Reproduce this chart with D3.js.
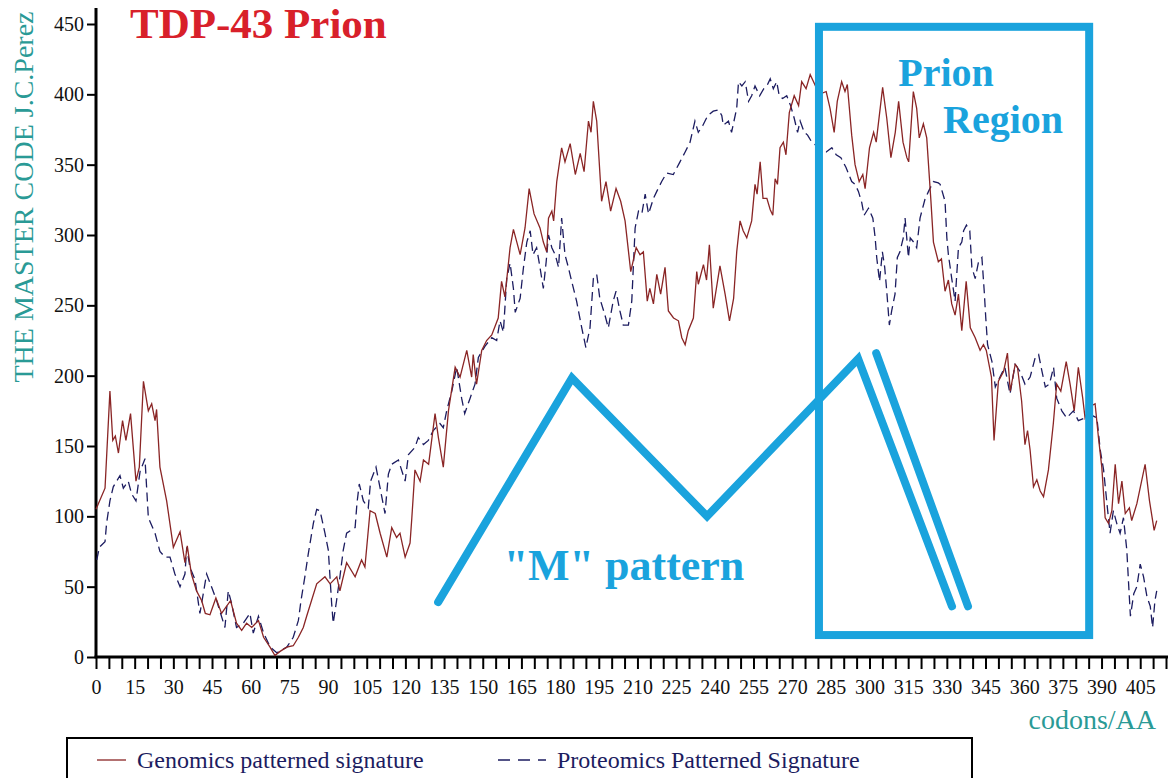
<!DOCTYPE html>
<meta charset="utf-8">
<style>
  html, body { margin: 0; padding: 0; background: #fff; overflow: hidden; }
  svg { display: block; }
  .axis text { font: normal 20px "Liberation Serif", "Times New Roman", serif; fill: #111; }
  .axis line { stroke: #000; stroke-width: 2px; }
  .axis path { display: none; }
</style>
<svg width="1169" height="778"></svg>
<script src="https://d3js.org/d3.v7.min.js"></script>
<script>

// Genomics patterned signature (codon, value)
var genCodon = [0,3.5,5.4,6.5,7.5,8.7,10.3,11.6,13.4,15.5,16.8,18.4,20.3,21.6,22.9,23.5,24.8,27.4,30,32.6,34.5,35.4,37,39,41,42.4,44.2,46.5,48.7,50.6,52.2,54.5,56.5,58.4,60.4,63,65,67.5,69.4,71.4,74,76.5,78.5,80.4,81.7,85.6,88.8,90.8,93.4,94.6,97.2,100.5,103,104.3,106.3,108.3,110.2,112.8,114.7,116.6,117.9,119.9,121.8,122.5,123.7,125.7,127,129,131.5,132.8,134.7,136.7,139.3,141.2,143.8,145.7,146.3,147.6,149.6,151.5,153.5,156,157.3,158.6,160.6,161.9,164.5,166.4,168,169.9,172.2,173.5,174.8,175.5,176.8,177.5,178.7,180.6,181.9,183.9,185.9,187.8,189.3,191,192,192.9,194.2,196.1,197.8,199.6,201.7,203.5,205.2,207.4,209.5,211,212.3,213.8,214.8,216.2,217.5,219,220.7,222,224,225.9,227.2,228.5,229.7,231.7,233,233.6,235.6,236.8,237.9,239.4,242,244,245.7,247.3,248.5,249.8,251,252.4,254.3,255.6,256.4,257.6,258.7,260.2,261.5,262.5,263.4,264.3,265.3,266.6,267.6,268.9,270.8,272.5,273.7,275.4,277,278.3,280.5,283.2,284.7,286.3,287.5,289.2,290.5,291.4,293.1,294.4,296,297.4,298.3,300,301.6,302.6,305.1,306.7,308.3,310,311.3,313,314.5,315.2,317,318.3,319.3,320.9,322.2,323.8,324.8,326.7,327.9,329.3,330.6,331.9,333.2,334.5,335.8,337.5,339.1,341,342.9,344.2,345.3,347.3,348.3,350,352,353.5,354.6,356.5,357.4,359,360.3,361.3,362.3,363.6,364.9,366.2,367.5,369.4,371.3,372.6,374.2,376.3,377.8,379.4,381,382.7,383.6,385.5,387.5,388.8,390.1,391.4,392.7,394,395.3,396.6,397.9,399.2,400.8,401.7,403.7,406.9,408.6,410.4,411.4];
var genValue = [105,120,189,154,157,145,168,154,173,125,135,196,175,180,168,176,135,111,78,89,67,79,59,47,40,31,30,42,31,36,40,24,19,24,21,26,14,7,1,4,7,8,14,21,29,52,57,52,57,47,67,57,69,64,104,102,88,71,92,85,88,71,81,99,133,125,140,137,173,156,135,175,206,199,218,199,215,194,218,225,229,241,267,256,291,304,286,305,333,315,305,295,288,312,317,310,338,362,352,365,343,358,345,381,373,395,381,324,338,317,333,324,310,274,291,286,288,253,262,251,272,258,277,246,241,239,227,222,232,241,274,265,279,268,293,248,278,258,239,255,288,310,303,298,310,336,329,352,326,326,318,314,340,336,362,366,357,387,399,392,409,404,414,409,400,402,390,373,395,409,402,407,371,350,338,343,333,362,373,366,405,383,355,373,395,366,355,352,402,390,369,379,369,325,295,281,283,260,268,251,243,258,232,267,234,227,218,222,218,199,154,196,203,216,189,208,206,182,151,161,147,121,126,118,114,133,166,194,189,210,194,175,206,184,170,178,180,156,135,99,95,104,137,109,125,102,106,97,109,137,111,90,97];

// Proteomics Patterned Signature (codon, value)
var protCodon = [0.3,1.3,3.5,4.1,5.4,6.7,9.3,10.6,12.5,13.8,15.5,17.1,19,20.3,22.9,24.8,26.8,28.7,30.6,32.6,34.5,35.2,36.4,38.4,40.3,42.9,44.8,46.8,50,51.3,52.6,54.5,57.1,59.7,61,63,65,67.6,70.1,74,76.5,78.5,79.5,81,82.3,84.3,85.6,86.9,88.8,90.1,91.4,92,93.3,94.6,95.9,97.2,100.5,101.2,102.1,103.7,105.6,106.5,108.6,110.2,112.1,113.4,114.7,117.3,119.9,121.2,123.7,125,127,128.9,130.8,133.4,134.7,136,138,139.9,141.8,143,145.1,147,148.3,150.9,153.5,155.4,156.7,158,159.3,160.6,161.9,162.6,164.5,165.8,167.1,168.4,169.5,170.9,172.2,173.5,174.6,175.5,176.8,178.1,179.4,180.6,181.9,183.2,184.5,186.4,188.4,190,191.6,192.9,194.2,195.4,197.4,198.7,200.6,201.7,203.2,204.5,206.5,207.8,209.1,210.4,211.7,213,214.3,216.2,217.5,219.4,221.3,223.9,226.5,228.5,230.4,232.3,233.6,235.4,237.3,239.4,241.4,242.7,243.3,245.3,246.5,248.5,249.2,250.5,251.8,253.1,254.3,255.6,257.4,259,260.2,261.5,262.7,264,265,266.3,267.9,269.4,270.8,272.1,273.1,274.7,276,277.6,280.5,283.2,285.4,287.1,288.9,290.9,293.1,294.4,295.7,297,297.9,299.6,301.3,302.2,302.8,303.9,305,305.9,306.7,307.7,308.6,309.9,310.8,311.8,313.1,313.8,315.1,315.8,317.1,318.3,319.6,321.6,322.9,324.8,326.7,327.4,329.3,330,330.6,331.9,333.2,334.5,335.8,336.5,337.6,338.9,339.7,341,342.3,343.6,344.5,345.1,345.8,347.5,348.8,350.6,352.5,354.5,356.5,358.4,360.3,362.3,364.3,365.6,366.9,368.2,369.8,371.4,372.6,374.6,376.5,379.1,381,383.6,386,388.2,389.5,390.8,392.1,393.3,394.6,395.9,397.2,398.5,399.8,400.5,401.2,402.5,403.7,405,406.3,407.6,408.9,409.8,410.7,411.4];
var protValue = [69,78,82,95,111,121,129,120,125,116,111,132,141,99,88,75,71,71,59,50,59,78,64,55,31,59,50,40,21,47,38,21,24,31,17,29,17,7,3,7,14,26,40,57,73,95,105,104,88,76,38,24,40,57,76,88,92,109,123,111,106,125,135,120,102,130,137,140,125,144,149,156,151,154,161,166,163,175,189,206,184,173,184,194,213,221,227,225,239,231,269,280,262,245,255,277,295,303,286,291,277,262,281,300,291,286,277,312,286,277,267,253,234,220,234,269,272,255,243,234,253,260,246,236,236,253,305,317,315,329,315,326,331,338,344,343,352,359,366,381,373,378,385,388,389,385,378,381,373,390,409,406,409,395,399,406,399,404,406,411,404,409,399,397,399,392,383,373,381,373,371,366,362,359,362,357,355,348,338,336,331,323,314,319,312,298,284,267,288,277,260,236,246,258,284,288,298,312,284,298,295,291,312,326,331,338,337,336,324,298,286,269,253,291,295,303,307,303,277,269,281,284,260,241,222,210,192,199,206,187,208,203,194,199,213,215,203,192,194,206,184,175,170,175,168,170,172,170,147,133,109,88,104,95,88,99,76,52,29,45,50,66,57,43,36,21,40,47];

// hand-drawn annotations, in chart units (codon, value)
var mPatternCodon = [132.7, 184.6, 237, 295.6, 332];
var mPatternValue = [39, 198.4, 100, 212, 36];
var mStrokeCodon = [302.6, 338.2];
var mStrokeValue = [216, 36];
var prionBoxCodon = [280.4, 385.2];
var prionBoxValue = [15.6, 448];

var yTicks = [0, 50, 100, 150, 200, 250, 300, 350, 400, 450];
var xMinorTicks = d3.range(0, 416, 5);

var svg = d3.select("svg");
var blue = "#1aa3dd";
var serif = "'Liberation Serif', 'Times New Roman', serif";

var x = d3.scaleLinear().domain([0, 415]).range([96, 1166]);
var y = d3.scaleLinear().domain([0, 450]).range([657, 24]);

// y axis
svg.append("g").attr("class", "axis")
    .attr("transform", "translate(" + x(0) + ",0)")
    .call(d3.axisLeft(y).tickValues(yTicks).tickSize(9).tickPadding(3));
svg.append("line")
    .attr("x1", x(0)).attr("x2", x(0))
    .attr("y1", y(0) + 1).attr("y2", 8)
    .attr("stroke", "#000").attr("stroke-width", 3);

// x axis
var gx = svg.append("g").attr("class", "axis")
    .attr("transform", "translate(0," + y(0) + ")")
    .call(d3.axisBottom(x).tickValues(xMinorTicks).tickSize(12)
      .tickFormat(function(d) { return d % 15 === 0 && d <= 405 ? d : ""; }).tickPadding(6));
gx.selectAll("text").attr("dy", "0.95em");
svg.append("line")
    .attr("x1", x(0) - 1.5).attr("x2", 1168)
    .attr("y1", y(0)).attr("y2", y(0))
    .attr("stroke", "#000").attr("stroke-width", 3);

// series
var gen = genCodon.map(function(c, i) { return [c, genValue[i]]; });
var prot = protCodon.map(function(c, i) { return [c, protValue[i]]; });
var line = d3.line().x(function(d) { return x(d[0]); }).y(function(d) { return y(d[1]); });

svg.append("path").datum(prot)
    .attr("d", line).attr("fill", "none")
    .attr("stroke", "#1c1c60").attr("stroke-width", 1.3)
    .attr("stroke-dasharray", "9,5");

svg.append("path").datum(gen)
    .attr("d", line).attr("fill", "none")
    .attr("stroke", "#8a2525").attr("stroke-width", 1.3);

// title and axis labels
svg.append("text")
    .attr("x", 130).attr("y", 38)
    .style("font", "bold 43px " + serif)
    .style("fill", "#d8202a")
    .text("TDP-43 Prion");

svg.append("text")
    .attr("transform", "translate(33,197) rotate(-90)")
    .attr("text-anchor", "middle")
    .style("font", "normal 28px " + serif)
    .style("fill", "#2a9a96")
    .text("THE MASTER CODE J.C.Perez");

svg.append("text")
    .attr("x", 1156).attr("y", 729)
    .attr("text-anchor", "end")
    .style("font", "normal 28px " + serif)
    .style("fill", "#2a9a96")
    .text("codons/AA");

// legend
svg.append("rect")
    .attr("x", 67).attr("y", 738).attr("width", 905).attr("height", 70)
    .attr("fill", "none").attr("stroke", "#000").attr("stroke-width", 2);

svg.append("line").attr("x1", 97).attr("x2", 126).attr("y1", 760).attr("y2", 760)
    .attr("stroke", "#8a2525").attr("stroke-width", 1.3);
svg.append("text").attr("x", 137).attr("y", 768)
    .style("font", "normal 24px " + serif).style("fill", "#1c1c60")
    .text("Genomics patterned signature");

svg.append("line").attr("x1", 498).attr("x2", 546).attr("y1", 760).attr("y2", 760)
    .attr("stroke", "#1c1c60").attr("stroke-width", 1.3).attr("stroke-dasharray", "12,8");
svg.append("text").attr("x", 557).attr("y", 768)
    .style("font", "normal 24px " + serif).style("fill", "#1c1c60")
    .text("Proteomics Patterned Signature");

// annotations
var mPts = mPatternCodon.map(function(c, i) { return [c, mPatternValue[i]]; });
var mStroke = mStrokeCodon.map(function(c, i) { return [c, mStrokeValue[i]]; });

svg.append("path").datum(mPts).attr("d", line)
    .attr("fill", "none").attr("stroke", blue).attr("stroke-width", 8)
    .attr("stroke-linecap", "round").attr("stroke-linejoin", "miter");
svg.append("path").datum(mStroke).attr("d", line)
    .attr("fill", "none").attr("stroke", blue).attr("stroke-width", 8)
    .attr("stroke-linecap", "round");

svg.append("rect")
    .attr("x", x(prionBoxCodon[0])).attr("y", y(prionBoxValue[1]))
    .attr("width", x(prionBoxCodon[1]) - x(prionBoxCodon[0]))
    .attr("height", y(prionBoxValue[0]) - y(prionBoxValue[1]))
    .attr("fill", "none").attr("stroke", blue).attr("stroke-width", 8);

svg.append("text")
    .attr("x", 624).attr("y", 580).attr("text-anchor", "middle")
    .style("font", "bold 44px " + serif).style("fill", blue)
    .text("\"M\" pattern");

svg.append("text")
    .attr("x", 946).attr("y", 86).attr("text-anchor", "middle")
    .style("font", "bold 40px " + serif).style("fill", blue)
    .text("Prion");
svg.append("text")
    .attr("x", 1003).attr("y", 133).attr("text-anchor", "middle")
    .style("font", "bold 40px " + serif).style("fill", blue)
    .text("Region");

</script>
